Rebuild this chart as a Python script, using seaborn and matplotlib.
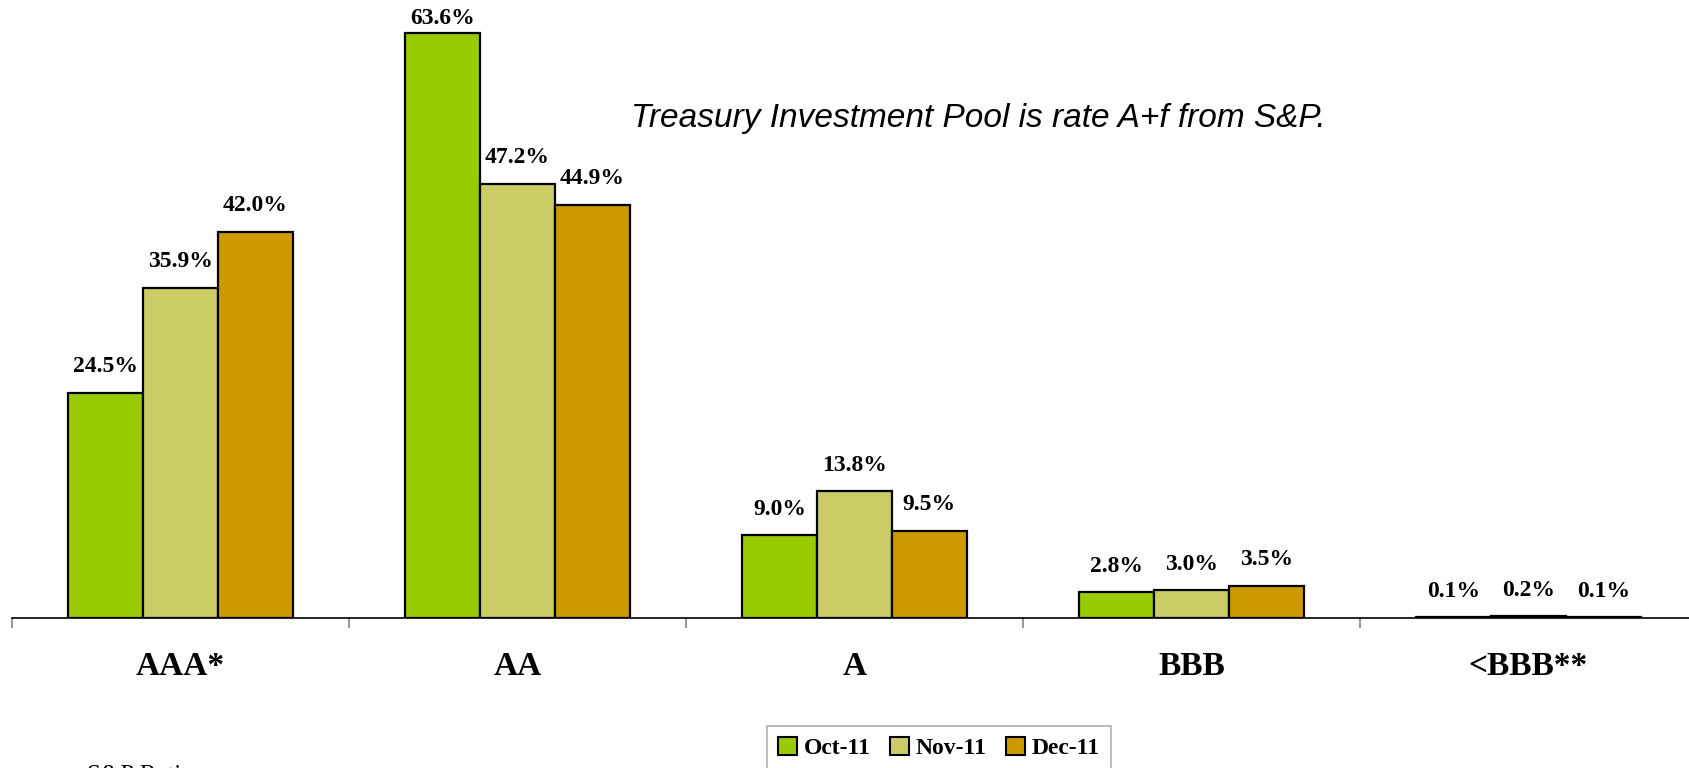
import numpy as np
import pandas as pd
import matplotlib
matplotlib.use("Agg")
import matplotlib.pyplot as plt
import seaborn as sns
from matplotlib import font_manager

categories = ["AAA*", "AA", "A", "BBB", "<BBB**"]
months = ["Oct-11", "Nov-11", "Dec-11"]
oct_vals = [24.5, 63.6, 9.0, 2.8, 0.1]
nov_vals = [35.9, 47.2, 13.8, 3.0, 0.2]
dec_vals = [42.0, 44.9, 9.5, 3.5, 0.1]
colors = ["#99CC00", "#CCCC66", "#CC9900"]
note_text = "Treasury Investment Pool is rate A+f from S&P."
axis_title = "S&P Rating"

rows = []
for m, vals in zip(months, [oct_vals, nov_vals, dec_vals]):
    for c, v in zip(categories, vals):
        rows.append({"rating": c, "month": m, "pct": v})
df = pd.DataFrame(rows)

sns.set_style("white")
plt.rcParams["text.color"] = "black"
plt.rcParams["xtick.color"] = "black"
serif = ["Liberation Serif", "DejaVu Serif"]
names = {f.name for f in font_manager.fontManager.ttflist}
narrow = "Liberation Sans Narrow" if "Liberation Sans Narrow" in names else "Liberation Sans"

W, H = 1690, 768
fig = plt.figure(figsize=(W / 100, H / 100), dpi=100)
axis_y = 618
left_px = 12
cat_w = 337
ax = fig.add_axes([left_px / W, (H - axis_y) / H, 5 * cat_w / W, axis_y / H])
px_per_unit = 9.2
ytop = axis_y / px_per_unit

sns.barplot(data=df, x="rating", y="pct", hue="month", order=categories,
            hue_order=months, palette=colors, edgecolor="black", linewidth=1.6,
            width=0.667, ax=ax, legend=True, saturation=1)

ax.set_ylim(0, ytop)
ax.set_xlim(-0.5, 4.5)
for s in ["top", "right", "left"]:
    ax.spines[s].set_visible(False)
ax.spines["bottom"].set_color("black")
ax.spines["bottom"].set_linewidth(1.2)
ax.set_yticks([])
ax.set_ylabel("")
ax.set_xlabel("")
ax.set_xticks(range(len(categories)))
ax.set_xticklabels(categories, fontsize=24, fontweight="bold", family=serif, color="black")
ax.tick_params(axis="x", which="major", length=0, pad=24, labelcolor="black")
ax.set_xticks(np.arange(-0.5, 4.6, 1), minor=True)
ax.tick_params(axis="x", which="minor", bottom=True, length=7, color="#999999",
               width=1.5, direction="out")

cap = ytop - 18.3 / px_per_unit
for cont in ax.containers:
    for bar in cont:
        v = bar.get_height()
        x = bar.get_x() + bar.get_width() / 2
        y = min(v + 26 / px_per_unit, cap)
        ax.text(x, y, f"{v:.1f}%", ha="center", va="center", fontsize=17,
                fontweight="bold", family=serif, color="black")

fig.text(978 / W, 1 - 118 / H, note_text, ha="center", va="center",
         fontsize=24, style="italic", family=narrow, color="black")

leg = ax.legend(loc="upper center", bbox_to_anchor=(939 / W, 1 - 726 / H),
                bbox_transform=fig.transFigure, ncol=3, frameon=True,
                fancybox=False, edgecolor="#999999", handlelength=0.8,
                handleheight=0.8, handletextpad=0.3, columnspacing=0.8,
                borderpad=0.45, borderaxespad=0,
                prop={"family": serif, "weight": "bold", "size": 17})
leg.get_frame().set_linewidth(1.2)
for t in leg.get_texts():
    t.set_color("black")
for h in leg.legend_handles:
    h.set_edgecolor("black")
    h.set_linewidth(1.5)

fig.text(87 / W, 1 - 765 / H, axis_title, ha="left", va="top",
         fontsize=18, family=serif, color="black")

fig.savefig("out.png", dpi=100, facecolor="white")
